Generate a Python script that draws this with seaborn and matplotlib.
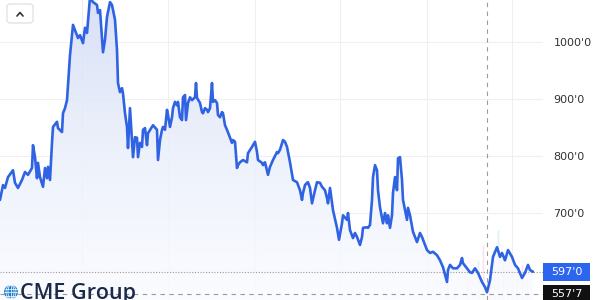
import numpy as np
import pandas as pd
import seaborn as sns
import matplotlib
matplotlib.use("Agg")
import matplotlib.pyplot as plt
from matplotlib.patches import FancyBboxPatch, Circle, Rectangle, Ellipse
from matplotlib.colors import LinearSegmentedColormap
from matplotlib.lines import Line2D
import matplotlib.transforms as mtransforms

# ---------------- data ----------------
day = [0, 3, 5, 8, 13, 15, 18, 22, 25, 28, 32, 33, 35, 37, 38, 40, 43, 45, 47, 48,
       50, 52, 53, 57, 58, 62, 63, 65, 67, 70, 73, 76, 78, 80, 83, 85, 87, 90, 93, 97,
       98, 100, 103, 105, 107, 110, 112, 113, 115, 117, 118, 120, 122, 123, 125, 127, 128, 130, 132, 133,
       135, 137, 138, 140, 142, 143, 145, 147, 148, 152, 153, 157, 158, 160, 162, 163, 165, 167, 168, 170,
       172, 173, 175, 177, 178, 180, 182, 183, 185, 186, 188, 190, 192, 195, 196, 197, 200, 202, 203, 205,
       207, 208, 210, 212, 213, 215, 217, 218, 220, 222, 223, 225, 227, 230, 232, 233, 235, 237, 238, 240,
       243, 247, 248, 252, 255, 257, 258, 262, 263, 265, 268, 270, 273, 277, 278, 280, 283, 285, 287, 290,
       293, 297, 300, 302, 303, 305, 307, 308, 310, 312, 315, 317, 320, 322, 325, 327, 328, 330, 333, 337,
       339, 342, 343, 347, 348, 350, 353, 355, 357, 360, 362, 363, 367, 368, 370, 372, 373, 375, 377, 378,
       380, 383, 385, 387, 388, 390, 392, 393, 395, 397, 398, 400, 402, 403, 405, 407, 408, 410, 413, 417,
       420, 422, 425, 427, 430, 433, 437, 440, 442, 443, 447, 448, 450, 453, 457, 460, 462, 463, 467, 470,
       472, 475, 478, 482, 485, 487, 490, 493, 497, 500, 502, 505, 508, 512, 515, 518, 522, 525, 528, 530,
       533]
price = [723, 749, 744, 763, 775, 753, 744, 758, 772, 767, 779, 819, 798, 761, 788, 763, 746, 779, 761, 781,
         758, 823, 851, 860, 849, 842, 875, 884, 898, 977, 1030, 1016, 1007, 1012, 998, 1025, 1016, 1078, 1070, 1065,
         1051, 1056, 982, 1004, 1044, 1070, 1065, 1056, 1039, 986, 928, 912, 919, 910, 875, 851, 814, 884, 828, 798,
         833, 832, 798, 823, 816, 846, 849, 819, 840, 851, 854, 846, 793, 828, 846, 851, 846, 881, 872, 851,
         868, 884, 895, 889, 895, 868, 863, 903, 907, 863, 893, 903, 898, 903, 928, 902, 893, 877, 875, 884,
         881, 877, 884, 928, 895, 898, 893, 872, 868, 877, 875, 854, 846, 832, 823, 828, 825, 779, 784, 789,
         793, 789, 805, 816, 825, 807, 793, 788, 784, 789, 767, 781, 793, 807, 805, 811, 828, 825, 816, 789,
         758, 754, 740, 723, 735, 749, 753, 754, 744, 717, 740, 754, 753, 746, 740, 726, 717, 744, 705, 674,
         653, 682, 696, 688, 700, 670, 656, 665, 658, 644, 658, 674, 675, 674, 679, 723, 763, 784, 775, 740,
         710, 682, 700, 682, 696, 674, 696, 735, 763, 740, 796, 798, 758, 723, 705, 688, 709, 696, 667, 649,
         665, 658, 644, 635, 630, 632, 626, 617, 609, 605, 579, 600, 609, 603, 603, 609, 621, 612, 603, 596,
         595, 603, 595, 579, 570, 561, 582, 623, 640, 623, 630, 617, 635, 623, 609, 603, 586, 595, 609, 600,
         597]

vol_day = [447, 455, 468, 478, 483, 490, 494, 498, 503, 507, 512, 517, 522, 527]
vol_size = [20, 15, 25, 40, 55, 35, 50, 70, 45, 30, 40, 25, 35, 20]
vol_up = [False, True, False, True, False, False, True, True, False, True, False, True, False, True]

y_ticks = [700, 800, 900, 1000]
y_tick_labels = ["700'0", "800'0", "900'0", "1000'0"]
x_grid = [82, 168, 255, 340, 427, 512]
last_price = 597.0
last_label = "597'0"
cross_price = 557.875
cross_label = "557'7"
cross_day = 487

# ---------------- style ----------------
sns.set_theme(style="white")
plt.rcParams["font.family"] = ["DejaVu Sans"]

LINE = "#2f63e3"
W, H = 600, 300
fig = plt.figure(figsize=(6, 3), dpi=100)
fig.patch.set_facecolor("white")

YMIN, YMAX = 547.4, 1073.7
XMIN, XMAX = 0, 543

# volume axes (behind the price axes)
axv = fig.add_axes([0, 0, 543 / W, 1])
axv.bar(vol_day, vol_size, width=2.2,
        color=["#9fd6c8" if u else "#f2a7b0" for u in vol_up], alpha=0.32)
axv.set_ylim(0, 300)
axv.set_xlim(XMIN, XMAX)
axv.axis("off")

ax = fig.add_axes([0, 0, 543 / W, 1])
ax.patch.set_visible(False)

df = pd.DataFrame({"day": day, "price": price})

# gradient fill under the line
fill = ax.fill_between(df["day"], df["price"], YMIN, color="none", lw=0)
cmap = LinearSegmentedColormap.from_list("g", ["#fbfcff", "#eaeffb", "#d3dcf6"])
grad = np.linspace(0, 1, 256).reshape(-1, 1)
im = ax.imshow(grad, extent=[XMIN, XMAX, YMIN, YMAX], origin="lower", aspect="auto",
               cmap=cmap, alpha=0.85, zorder=1)
im.set_clip_path(fill.get_paths()[0], transform=ax.transData)

sns.lineplot(data=df, x="day", y="price", ax=ax, color=LINE, linewidth=1.9, zorder=5)

ax.set_xlim(XMIN, XMAX)
ax.set_ylim(YMIN, YMAX)
ax.set_xticks(x_grid)
ax.set_xticklabels([])
ax.set_yticks(y_ticks)
ax.set_yticklabels(y_tick_labels)
ax.yaxis.tick_right()
ax.tick_params(axis="y", length=0, pad=7.5, labelsize=8, labelcolor="#333333")
ax.tick_params(axis="x", length=0)
ax.grid(True, color="#efefef", lw=0.8, zorder=0)
ax.set_axisbelow(True)
ax.set_xlabel("")
ax.set_ylabel("")
for s in ax.spines.values():
    s.set_visible(False)

# price / crosshair lines
ax.axhline(last_price, color="#9a9a9a", ls=(0, (1, 1.5)), lw=0.8, zorder=3)
ax.axhline(cross_price, color="#9a9a9a", ls=(0, (4, 4)), lw=0.8, zorder=3)
ax.axvline(cross_day, color="#9a9a9a", ls=(0, (4, 4)), lw=0.8, zorder=3)

# price boxes on the right
bt = mtransforms.blended_transform_factory(fig.transFigure, ax.transData)
px_to_val = (YMAX - YMIN) / H
for val, lab, col in [(last_price, last_label, "#2b65f0"), (cross_price, cross_label, "#111111")]:
    hbox = 18 * px_to_val
    fig.add_artist(Rectangle((543 / W, val - hbox / 2), 47 / W, hbox, transform=bt,
                             facecolor=col, edgecolor="none", clip_on=False))
    fig.text(566.5 / W, val, lab, transform=bt, ha="center", va="center",
             color="white", fontsize=8)

# button with caret at top-left
it = fig.dpi_scale_trans
fig.add_artist(FancyBboxPatch((7 / 100, (H - 23) / 100), 26 / 100, 19 / 100,
                              boxstyle="round,pad=0,rounding_size=0.03", transform=it,
                              facecolor="white", edgecolor="#dcdcdc", lw=0.8))
fig.add_artist(Line2D([17 / 100, 20 / 100, 23 / 100],
                      [(H - 16) / 100, (H - 12.5) / 100, (H - 16) / 100],
                      transform=it, color="#333333", lw=1.2, solid_capstyle="round"))

# CME Group logo
gx, gy, gr = 11 / 100, (H - 292) / 100, 7 / 100
fig.add_artist(Circle((gx, gy), gr, transform=it, facecolor="#1d7fd1", edgecolor="none"))
for dy in (-0.035, 0, 0.035):
    half = np.sqrt(max(gr ** 2 - dy ** 2, 0))
    fig.add_artist(Line2D([gx - half, gx + half], [gy + dy, gy + dy], transform=it,
                          color="white", lw=0.5))
for wdt in (0.06, 0.1):
    fig.add_artist(Ellipse((gx, gy), wdt, 2 * gr, transform=it, facecolor="none",
                           edgecolor="white", lw=0.5))
fig.add_artist(Line2D([gx, gx], [gy - gr, gy + gr], transform=it, color="white", lw=0.5))
fig.text(20 / W, 1.5 / H, "CME Group", fontsize=15.5, color="#1b2a4a", ha="left",
         va="baseline", family=["Open Sans", "DejaVu Sans"], fontweight="semibold")

fig.savefig("out.png", dpi=100)
